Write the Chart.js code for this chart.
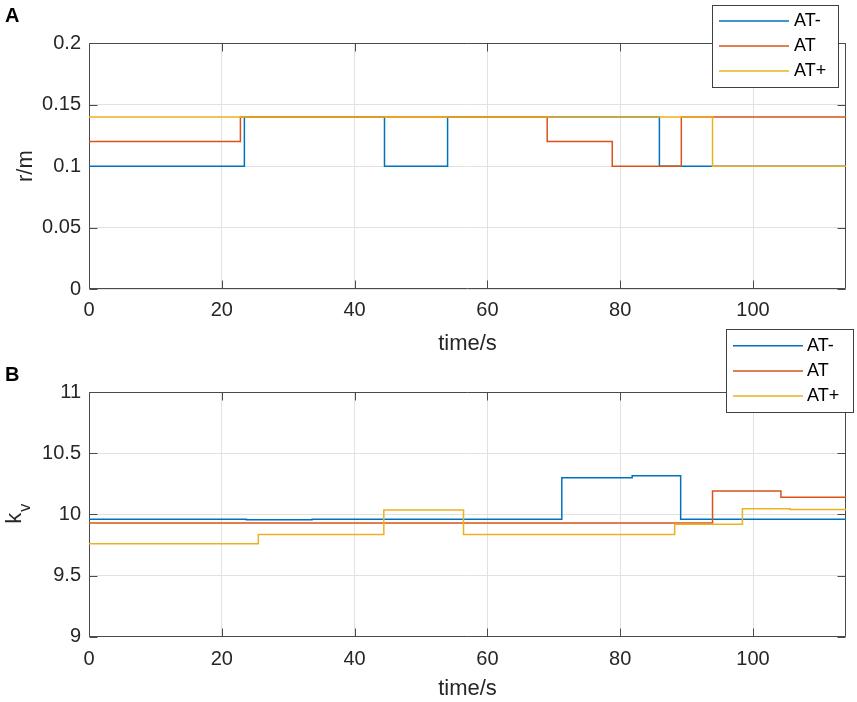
<!DOCTYPE html>
<html lang="en">
<head>
<meta charset="UTF-8">
<title>r/m and kv against time</title>
<script src="https://cdn.jsdelivr.net/npm/chart.js"></script>
<style>
  html, body { margin: 0; padding: 0; background: #fff; }
  body { width: 857px; height: 702px; position: relative; overflow: hidden; }
  canvas { position: absolute; left: 0; }
  #chartA { top: 0; }
  #chartB { top: 322px; }
</style>
</head>
<body>
<canvas id="chartA" width="857" height="362"></canvas>
<canvas id="chartB" width="857" height="380"></canvas>
<script>
// series shared by both panels
const seriesNames = ['AT-', 'AT', 'AT+'];
const seriesColors = ['#0072BD', '#D95319', '#EDB120'];

const xTicks = [0, 20, 40, 60, 80, 100];
const xMax = 114;

// panel A : r/m  (each value holds from its time until the next time)
const rTicks = [0, 0.05, 0.1, 0.15, 0.2];
const rMinusT = [0, 23.4, 44.5, 54, 85.9, 114];
const rMinus  = [0.10, 0.14, 0.10, 0.14, 0.10, 0.10];
const rMidT = [0, 22.8, 69, 78.8, 89.2, 114];
const rMid  = [0.12, 0.14, 0.12, 0.10, 0.14, 0.14];
const rPlusT = [0, 93.9, 114];
const rPlus  = [0.14, 0.10, 0.10];

// panel B : kv
const kTicks = [9, 9.5, 10, 10.5, 11];
const kMinusT = [0, 23.7, 33.6, 71.2, 81.8, 89.1, 114];
const kMinus  = [9.96, 9.955, 9.96, 10.30, 10.315, 9.96, 9.96];
const kMidT = [0, 93.9, 104.2, 114];
const kMid  = [9.93, 10.19, 10.14, 10.14];
const kPlusT = [0, 25.5, 44.4, 56.4, 88.2, 98.4, 105.6, 114];
const kPlus  = [9.76, 9.835, 10.035, 9.835, 9.92, 10.045, 10.04, 10.04];

const FONT = '"Liberation Sans", Arial, Helvetica, sans-serif';
const TEXT = '#262626';
const AXIS = '#4a4a4a';
const GRID = '#e2e2e2';

Chart.defaults.font.family = FONT;

function toPoints(ts, vs) {
  return ts.map((t, i) => ({ x: t, y: vs[i] }));
}

function makeSets(pairs) {
  return pairs.map((p, i) => ({
    label: seriesNames[i],
    data: toPoints(p[0], p[1]),
    borderColor: seriesColors[i],
    backgroundColor: seriesColors[i],
    borderWidth: 1.5,
    pointRadius: 0,
    stepped: true,
    fill: false,
    order: pairs.length - i   // later series drawn on top, like matlab
  }));
}

// axes box with inward ticks on all four sides (matlab look), under the data
const framePlugin = {
  id: 'frame',
  beforeDatasetsDraw(chart) {
    const { ctx, chartArea: a, scales } = chart;
    const L = Math.round(a.left) + 0.5, R = Math.round(a.right) - 0.5;
    const T = Math.round(a.top) + 0.5, B = Math.round(a.bottom) - 0.5;
    const len = 8;
    ctx.save();
    ctx.strokeStyle = AXIS;
    ctx.lineWidth = 1;
    ctx.beginPath();
    ctx.rect(L, T, R - L, B - T);
    scales.x.ticks.forEach(t => {
      const px = Math.round(scales.x.getPixelForValue(t.value)) + 0.5;
      ctx.moveTo(px, B); ctx.lineTo(px, B - len);
      ctx.moveTo(px, T); ctx.lineTo(px, T + len);
    });
    scales.y.ticks.forEach(t => {
      const py = Math.round(scales.y.getPixelForValue(t.value)) + 0.5;
      ctx.moveTo(L, py); ctx.lineTo(L + len, py);
      ctx.moveTo(R, py); ctx.lineTo(R - len, py);
    });
    ctx.stroke();
    ctx.restore();
  }
};

// rotated y label with optional subscript, panel letter, legend box
const decoPlugin = {
  id: 'deco',
  afterDraw(chart, args, opts) {
    const { ctx, chartArea: a } = chart;
    ctx.save();
    // panel letter
    ctx.fillStyle = '#000';
    ctx.font = 'bold 20px ' + FONT;
    ctx.textAlign = 'left';
    ctx.textBaseline = 'alphabetic';
    ctx.fillText(opts.tag, 5, opts.tagY);

    // y title
    const cy = (a.top + a.bottom) / 2;
    ctx.translate(opts.yTitleX, cy);
    ctx.rotate(-Math.PI / 2);
    ctx.fillStyle = TEXT;
    ctx.font = '22px ' + FONT;
    if (opts.ySub) {
      const w1 = ctx.measureText(opts.yTitle).width;
      ctx.font = '16px ' + FONT;
      const w2 = ctx.measureText(opts.ySub).width;
      const x0 = -(w1 + w2) / 2;
      ctx.textAlign = 'left';
      ctx.font = '22px ' + FONT;
      ctx.fillText(opts.yTitle, x0, 0);
      ctx.font = '16px ' + FONT;
      ctx.fillText(opts.ySub, x0 + w1 + 1, 9);
    } else {
      ctx.textAlign = 'center';
      ctx.fillText(opts.yTitle, 0, 0);
    }
    ctx.restore();

    // legend
    const lg = opts.legend;
    ctx.save();
    ctx.fillStyle = '#fff';
    ctx.fillRect(lg.box[0], lg.box[1], lg.box[2] - lg.box[0], lg.box[3] - lg.box[1]);
    ctx.strokeStyle = '#404040';
    ctx.lineWidth = 1;
    ctx.strokeRect(lg.box[0] + 0.5, lg.box[1] + 0.5, lg.box[2] - lg.box[0], lg.box[3] - lg.box[1]);
    ctx.font = '18px ' + FONT;
    ctx.textAlign = 'left';
    ctx.textBaseline = 'middle';
    chart.data.datasets.forEach((ds, i) => {
      const y = lg.rows[i];
      ctx.strokeStyle = ds.borderColor;
      ctx.lineWidth = 1.5;
      ctx.beginPath();
      ctx.moveTo(lg.line[0], y);
      ctx.lineTo(lg.line[1], y);
      ctx.stroke();
      ctx.fillStyle = '#000';
      ctx.fillText(ds.label, lg.textX, y);
    });
    ctx.restore();
  }
};

function makeConfig(sets, yTicks, p) {
  return {
    type: 'line',
    data: { datasets: sets },
    options: {
      responsive: false,
      animation: false,
      layout: { padding: { left: 0, top: p.top, right: 11, bottom: 0 } },
      plugins: {
        legend: { display: false },
        tooltip: { enabled: false },
        deco: p.deco
      },
      scales: {
        x: {
          type: 'linear',
          min: 0,
          max: xMax,
          afterBuildTicks: s => { s.ticks = xTicks.map(v => ({ value: v })); },
          afterFit: s => { s.height = p.xAxisH; },
          grid: { color: GRID, drawTicks: false },
          border: { display: false },
          ticks: {
            color: TEXT,
            font: { size: 20 },
            padding: p.xTickPad,
            maxRotation: 0,
            autoSkip: false,
            callback: v => String(v)
          },
          title: {
            display: true,
            text: 'time/s',
            color: TEXT,
            font: { size: 22 },
            padding: { top: 0, bottom: p.xTitlePad }
          }
        },
        y: {
          type: 'linear',
          min: yTicks[0],
          max: yTicks[yTicks.length - 1],
          afterBuildTicks: s => { s.ticks = yTicks.map(v => ({ value: v })); },
          afterFit: s => { s.width = 89; },
          grid: { color: GRID, drawTicks: false },
          border: { display: false },
          ticks: {
            color: TEXT,
            font: { size: 20 },
            padding: 8,
            callback: v => String(v)
          }
        }
      }
    },
    plugins: [framePlugin, decoPlugin]
  };
}

new Chart(document.getElementById('chartA'), makeConfig(
  makeSets([[rMinusT, rMinus], [rMidT, rMid], [rPlusT, rPlus]]),
  rTicks,
  {
    top: 43, xAxisH: 72.7, xTickPad: 9.5, xTitlePad: 4.4,
    deco: {
      tag: 'A', tagY: 22,
      yTitle: 'r/m', ySub: '', yTitleX: 31.5,
      legend: { box: [712, 5, 838, 87], line: [719, 789], textX: 794, rows: [21, 46, 71] }
    }
  }
));

new Chart(document.getElementById('chartB'), makeConfig(
  makeSets([[kMinusT, kMinus], [kMidT, kMid], [kPlusT, kPlus]]),
  kTicks,
  {
    top: 70, xAxisH: 65.3, xTickPad: 10.5, xTitlePad: 0,
    deco: {
      tag: 'B', tagY: 58.5,
      yTitle: 'k', ySub: 'v', yTitleX: 21,
      legend: { box: [726, 7, 853, 90], line: [733, 803], textX: 807, rows: [23.7, 49, 74] }
    }
  }
));
</script>
</body>
</html>
